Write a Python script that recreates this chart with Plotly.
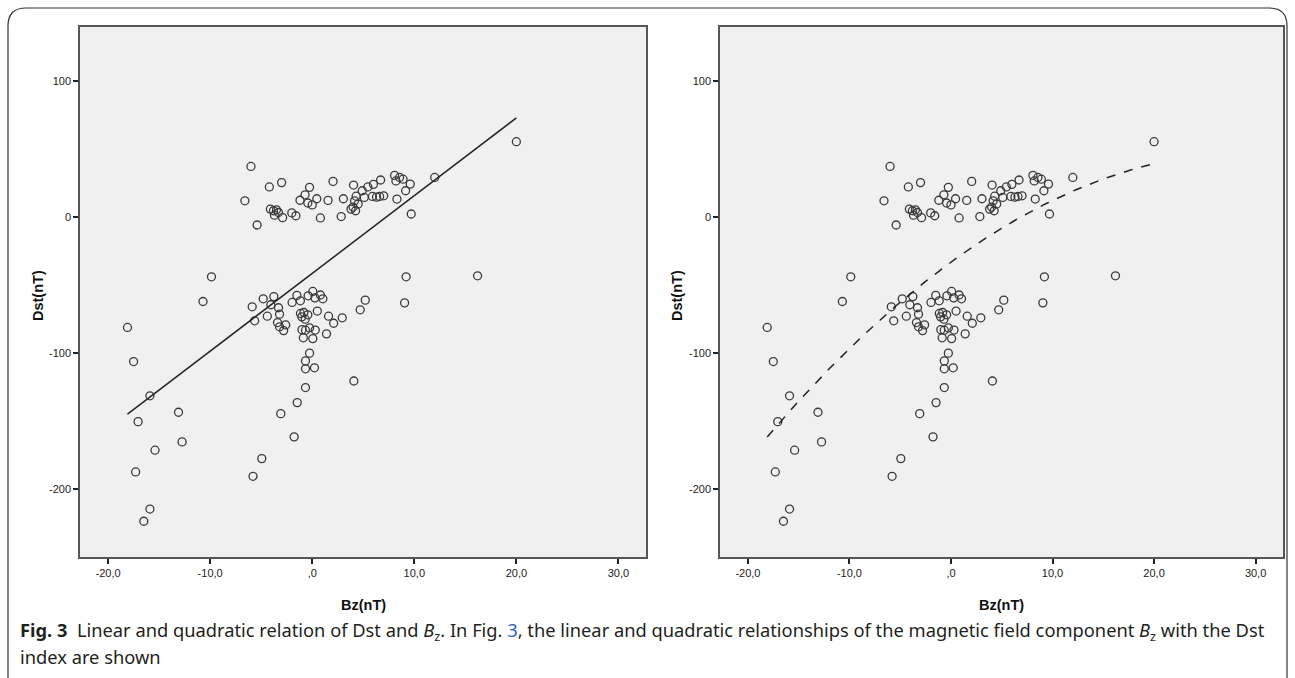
import numpy as np
import plotly.graph_objects as go

# ---- data ----
bz = [-6.0, -6.6, -5.4, -4.2, -3.0, -4.1, -3.8, -3.5, -3.3, -3.7, -2.9, -2.0, -1.6,
      -1.2, -0.7, -0.26, 0.45, -0.43, 0.0, 0.8, 1.55, 2.04, 2.84, 3.05, 4.05, 4.3,
      4.15, 4.0, 4.25, 3.8, 4.5, 4.9, 5.1, 5.45, 6.0, 5.9, 6.3, 6.6, 7.0, 6.7, 8.07,
      8.56, 8.9, 8.2, 9.6, 9.15, 8.3, 9.7, 12.0, 20.0,
      -9.87, -10.7, -18.1, -17.5, 9.2, 9.05, 5.2, 4.7, 2.94, 2.1, 1.6, 1.4, 0.5, 0.3,
      0.06, -0.26, -0.66, -1.0, -0.87, -0.26, -0.66, -0.66, 0.22, 0.06, -0.4, 0.26,
      0.8, 1.04, -1.5, -1.16, -1.97, -1.15, -0.82, -0.43, -1.02, -0.69, -3.76, -4.8,
      -5.88, -5.64, -4.4, -4.05, -3.3, -3.2, -3.4, -3.2, -2.6, -2.8, 4.08,
      -0.66, -1.47, -3.08, -1.77, -4.94, -5.8, -15.9, -17.06, -13.1, -12.75, -15.4,
      -17.3, -15.9, -16.5, 16.2]
dst = [37.4, 12.1, -5.7, 22.3, 25.5, 6.0, 4.8, 5.5, 3.5, 1.5, -0.3, 3.2, 1.1,
       12.5, 16.5, 22.0, 13.6, 10.5, 9.1, -0.5, 12.4, 26.4, 0.5, 13.6, 23.7, 15.5,
       12.1, 7.5, 4.8, 6.0, 9.7, 19.5, 14.6, 22.3, 24.2, 15.3, 14.8, 15.3, 15.8, 27.4,
       30.8, 29.3, 28.0, 26.7, 24.4, 19.5, 13.4, 2.4, 29.3, 55.6,
       -43.8, -62.0, -81.1, -106.2, -43.8, -63.0, -61.0, -68.1, -74.0, -78.0, -72.8,
       -85.8, -69.0, -83.0, -89.3, -81.4, -83.1, -82.7, -88.7, -100.0, -105.7, -111.5,
       -110.8, -54.6, -57.8, -59.3, -57.2, -60.0, -57.5, -61.5, -62.7, -70.8, -70.1,
       -71.8, -73.3, -75.0, -58.4, -60.0, -65.9, -76.2, -72.8, -64.4, -66.6, -71.3,
       -77.5, -80.6, -79.2, -83.4, -120.5,
       -125.3, -136.4, -144.5, -161.6, -177.6, -190.6, -131.4, -150.4, -143.5, -165.3,
       -171.4, -187.4, -214.7, -223.7, -43.1]

# fitted relations (coefficients)
linear_coef = [-41.3, 5.72]            # a + b*Bz
quad_coef = [-33.0, 5.45, -0.0915]     # a + b*Bz + c*Bz^2

x_ticks = [-20, -10, 0, 10, 20, 30]
x_ticklabels = ["-20,0", "-10,0", ",0", "10,0", "20,0", "30,0"]
y_ticks = [-200, -100, 0, 100]
y_ticklabels = ["-200", "-100", "0", "100"]

x_title = "Bz(nT)"
y_title = "Dst(nT)"

# ---- figure ----
W, H = 1295, 678
def px(x):
    return x / W
def py(y):
    return 1 - y / H

xmin, xmax = min(bz), max(bz)
xl = np.array([xmin, xmax])
yl = linear_coef[0] + linear_coef[1] * xl
xq = np.linspace(xmin, xmax, 120)
yq = quad_coef[0] + quad_coef[1] * xq + quad_coef[2] * xq ** 2

marker = dict(symbol="circle-open", size=8, color="#3a3a3a", line=dict(width=1.3))

fig = go.Figure()
fig.add_trace(go.Scatter(x=bz, y=dst, mode="markers", marker=marker, xaxis="x", yaxis="y",
                         showlegend=False, hoverinfo="skip"))
fig.add_trace(go.Scatter(x=xl, y=yl, mode="lines", line=dict(color="#222", width=1.5),
                         xaxis="x", yaxis="y", showlegend=False, hoverinfo="skip"))
fig.add_trace(go.Scatter(x=bz, y=dst, mode="markers", marker=marker, xaxis="x2", yaxis="y2",
                         showlegend=False, hoverinfo="skip"))
fig.add_trace(go.Scatter(x=xq, y=yq, mode="lines", line=dict(color="#222", width=1.5, dash="dash"),
                         xaxis="x2", yaxis="y2", showlegend=False, hoverinfo="skip"))

tickfont = dict(family="Liberation Sans, Arial", size=11, color="#222")
xrange_ = [-22.75, 32.7]
yrange_ = [-250, 140]

def xaxis(domain, anchor):
    return dict(domain=domain, anchor=anchor, range=xrange_, tickvals=x_ticks,
                ticktext=x_ticklabels, ticks="outside", ticklen=5, tickwidth=1.5,
                tickcolor="#222", showgrid=False, zeroline=False, showline=True,
                linecolor="#555", linewidth=1.5, mirror=True, tickfont=tickfont)

def yaxis(domain, anchor):
    return dict(domain=domain, anchor=anchor, range=yrange_, tickvals=y_ticks,
                ticktext=y_ticklabels, ticks="outside", ticklen=5, tickwidth=2,
                tickcolor="#222", showgrid=False, zeroline=False, showline=True,
                linecolor="#555", linewidth=1.5, mirror=True, tickfont=tickfont)

ydom = [py(557), py(27)]
fig.update_layout(
    width=W, height=H, margin=dict(l=0, r=0, t=0, b=0),
    paper_bgcolor="white", plot_bgcolor="#f0f0f0",
    xaxis=xaxis([px(80), px(646)], "y"),
    yaxis=yaxis(ydom, "x"),
    xaxis2=xaxis([px(720), px(1283)], "y2"),
    yaxis2=yaxis(ydom, "x2"),
)

titlefont = dict(family="Liberation Sans, Arial", size=14.5, color="#111")
ann = []
for cx, ax_x in [((80 + 646) / 2, 38), ((720 + 1283) / 2, 677)]:
    ann.append(dict(x=px(cx), y=py(605), xref="paper", yref="paper", text="<b>%s</b>" % x_title,
                    showarrow=False, font=titlefont, xanchor="center", yanchor="middle"))
    ann.append(dict(x=px(ax_x), y=py(296), xref="paper", yref="paper", text="<b>%s</b>" % y_title,
                    showarrow=False, font=titlefont, textangle=-90, xanchor="center", yanchor="middle"))

blue = "#2a5bd7"
cap1 = ("<b>Fig. 3</b>&nbsp;&nbsp;Linear and quadratic relation of Dst and <i>B</i><sub>z</sub>. "
        "In Fig. <span style='color:%s'>3</span>, the linear and quadratic relationships of the "
        "magnetic field component <i>B</i><sub>z</sub> with the Dst" % blue)
cap2 = "index are shown"
capfont = dict(family="Noto Sans, Open Sans, Arial", size=18.3, color="#231f20")
ann.append(dict(x=px(18), y=py(631), xref="paper", yref="paper", text=cap1, showarrow=False,
                font=capfont, xanchor="left", yanchor="middle", align="left"))
ann.append(dict(x=px(18), y=py(656), xref="paper", yref="paper", text=cap2, showarrow=False,
                font=capfont, xanchor="left", yanchor="middle", align="left"))
fig.update_layout(annotations=ann)

# outer rounded frame
r = 18
L, T, R, B = 8, 8, 1287, 700
path = ("M %f,%f L %f,%f Q %f,%f %f,%f L %f,%f Q %f,%f %f,%f L %f,%f" % (
    px(L), py(B), px(L), py(T + r), px(L), py(T), px(L + r), py(T),
    px(R - r), py(T), px(R), py(T), px(R), py(T + r), px(R), py(B)))
fig.add_shape(type="path", path=path, xref="paper", yref="paper",
              line=dict(color="#333", width=1.2))

fig.write_html("out.html")
